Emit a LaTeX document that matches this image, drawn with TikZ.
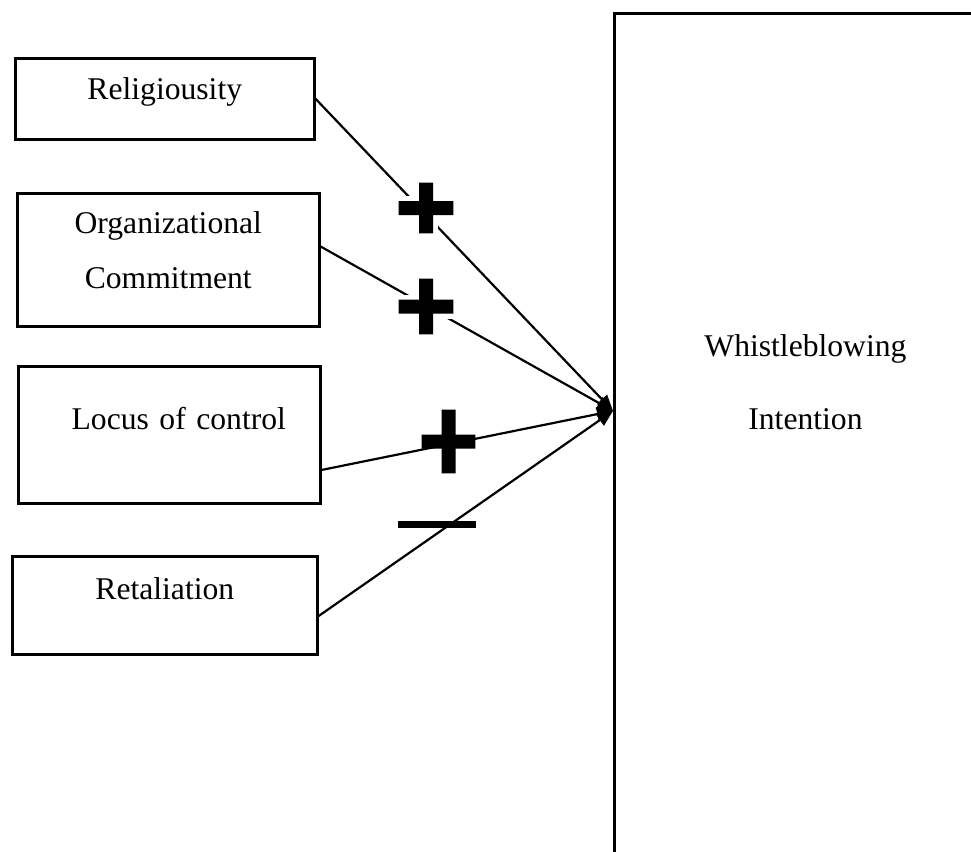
\documentclass[tikz,border=0pt]{standalone}
\usepackage{fontspec}
\setmainfont{Liberation Serif}
\usetikzlibrary{arrows.meta}

\tikzset{
	factor/.style = {draw, line width = 1.5pt, inner sep = 0pt, align = center,
		anchor = north west, font = \fontsize{18pt}{31.3pt}\selectfont},
	outcome/.style = {factor, line width = 1.7pt, font = \fontsize{18pt}{41.5pt}\selectfont},
	link/.style = {line width = 1.25pt, -{Triangle[length = 0.32cm, width = 0.27cm]}},
	signbox/.style = {inner sep = 0pt},
	minusmark/.style = {fill, inner sep = 0pt, minimum width = 1.56cm, minimum height = 0.14cm},
	halo/.style = {draw = white, line width = 0.2cm}
}

% plus sign drawn in the box of a node: [halo], node, bar thickness
\newcommand{\plussign}[3][]{%
	\path[#1] ([yshift = #3/2]#2.west) rectangle ([yshift = -#3/2]#2.east)
		([xshift = -#3/2]#2.north) rectangle ([xshift = #3/2]#2.south);
	\fill ([yshift = #3/2]#2.west) rectangle ([yshift = -#3/2]#2.east)
		([xshift = -#3/2]#2.north) rectangle ([xshift = #3/2]#2.south);}

\begin{document}
\begin{tikzpicture}[x = 0.02cm, y = -0.02cm]%modele whistleblowing
	
	\useasboundingbox (0,0) rectangle (971,852);
	\clip (0,0) rectangle (971,852);
	
	\node[factor, text width = 5.98cm, text height = 0.82cm, text depth = 0.80cm] (rel) at (14,57) {Religiousity};
	\node[factor, text width = 6.04cm, text height = 0.80cm, text depth = 1.86cm] (org) at (16,192) {Organizational\\Commitment};
	\node[factor, text width = 6.04cm, text height = 1.26cm, text depth = 1.48cm] (loc) at (17,365) {\hspace*{0.38cm}Locus of control};
	\node[factor, text width = 6.10cm, text height = 0.86cm, text depth = 1.10cm] (ret) at (11,555) {Retaliation};
	
	\node[outcome, text width = 7.64cm, text height = 6.86cm, text depth = 10.9cm] (wbi) at (613,12) {Whistleblowing\\Intention};
	\coordinate (tip) at ([yshift = -7.98cm]wbi.north west);
	
	\node[signbox, minimum width = 1.08cm, minimum height = 1.00cm] (p1) at (426,208) {};
	\node[signbox, minimum width = 1.08cm, minimum height = 1.10cm] (p2) at (426,306.5) {};
	\node[signbox, minimum width = 1.06cm, minimum height = 1.26cm] (p3) at (448.5,441.5) {};
	
	\draw[link] (rel.east) -- (tip);
	\draw[link] (org.5) -- (tip);
	\draw[link] (loc.-13) -- (tip);
	\draw[link] (ret.-4) -- (tip);
	
	\plussign[halo]{p1}{0.28cm}
	\plussign[halo]{p2}{0.28cm}
	\plussign{p3}{0.28cm}
	\node[minusmark] (m4) at (437,524.5) {};
\end{tikzpicture}
\end{document}
